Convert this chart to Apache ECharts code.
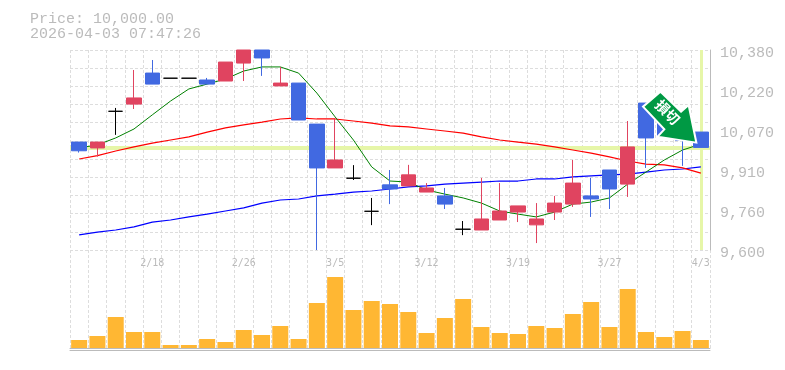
<!DOCTYPE html>
<html><head><meta charset="utf-8">
<style>html,body{margin:0;padding:0;background:#fff}#c{width:785px;height:370px}</style>
<script src="https://cdn.jsdelivr.net/npm/echarts@6/dist/echarts.min.js"></script>
</head><body><div id="c"></div>
<script>
const categories = ['2/12','2/13','2/16','2/17','2/18','2/19','2/20','2/24','2/25','2/26','2/27','3/2','3/3','3/4','3/5','3/6','3/9','3/10','3/11','3/12','3/13','3/16','3/17','3/18','3/19','3/23','3/24','3/25','3/26','3/27','3/30','3/31','4/1','4/2','4/3'];
const labelledDates = ['2/18','2/26','3/5','3/12','3/19','3/27','4/3'];
// open, close, low, high
const candles = [
[10021,9987,9980,10021],[9998,10021,9964,10021],[10141,10141,10049,10154],[10169,10193,10150,10302],[10290,10247,10247,10341],
[10270,10270,10270,10270],[10270,10270,10270,10270],[10263,10247,10247,10271],[10259,10333,10259,10333],[10329,10380,10259,10380],
[10380,10349,10279,10380],[10240,10251,10240,10314],[10251,10107,10107,10251],[10091,9920,9600,10091],[9920,9951,9920,10115],
[9880,9880,9873,9931],[9751,9751,9697,9803],[9854,9838,9779,9912],[9850,9893,9850,9932],[9826,9842,9826,9861],
[9811,9779,9760,9842],[9681,9681,9658,9713],[9678,9721,9678,9881],[9717,9752,9717,9861],[9748,9772,9709,9772],
[9698,9721,9627,9783],[9748,9783,9717,9811],[9779,9861,9768,9951],[9811,9799,9729,9881],[9912,9838,9760,9912],
[9857,10002,9807,10103],[10173,10037,9920,10173],[10107,10045,10045,10107],[10049,10027,9928,10049],[10060,10000,10000,10060]];
const maShort = [9998,10010,10037,10072,10127,10181,10228,10247,10267,10298,10314,10314,10290,10212,10119,10029,9924,9869,9865,9834,9818,9803,9783,9752,9740,9729,9748,9779,9787,9803,9857,9904,9951,9990,10013];
const maMid = [9955,9968,9986,10002,10017,10029,10041,10060,10076,10088,10099,10111,10115,10111,10111,10103,10095,10084,10080,10072,10064,10056,10041,10029,10021,10013,10002,9990,9978,9963,9947,9935,9932,9920,9900];
const maLong = [9659,9670,9678,9690,9709,9717,9729,9740,9752,9764,9783,9795,9799,9811,9818,9826,9830,9838,9846,9850,9857,9861,9865,9869,9869,9877,9877,9885,9889,9893,9896,9904,9912,9916,9924];
const volumes = [8,12,31,16,16,3,3,9,6,18,13,22,9,45,71,38,47,44,36,15,30,49,21,15,14,22,20,34,46,21,59,16,11,17,8];
const priceLabels = [9600,9756,9912,10068,10224,10380];
const currentPrice = 10000;
const priceMin = 9600, priceMax = 10380, gridDivisions = 11;
const stamp = '2026-04-03 07:47:26';

const mono = '"Liberation Mono", monospace';
const grey = '#bbbbbb';
const dash = {show:true, interval:0, lineStyle:{color:'#dddddd', type:[3,2], width:1}};
const gridValues = Array.from({length:gridDivisions+1},(_,i)=>priceMin+i*(priceMax-priceMin)/gridDivisions);
const fmt = v => (Math.round(v/10)*10).toString().replace(/\B(?=(\d{3})+$)/,',');
const arrowPath = 'path://M660 91.7L642.7 106.7L664 129.3L657.3 136.7L696 142.7L688.3 105L680.7 111.7Z';

const chart = echarts.init(document.getElementById('c'),null,{renderer:'canvas'});
chart.setOption({
  animation:false,
  title:{left:30,top:12,padding:0,text:'Price: '+currentPrice.toLocaleString('en-US',{minimumFractionDigits:2})+'\n'+stamp,
    textStyle:{fontFamily:mono,fontSize:15,fontWeight:'normal',color:grey,lineHeight:15}},
  grid:[{left:70,right:75,top:50,height:200},{left:70,right:75,top:250,height:100}],
  xAxis:[
    {type:'category',gridIndex:0,data:categories,axisLine:{show:false},axisTick:{show:false},axisLabel:{show:false},splitLine:dash},
    {type:'category',gridIndex:1,data:categories,position:'top',axisLine:{show:true,lineStyle:{color:grey}},axisTick:{show:false},
      axisLabel:{show:true,inside:true,margin:8,interval:0,hideOverlap:false,showMaxLabel:true,
        formatter:v=>labelledDates.includes(v)?v:'',fontFamily:'"DejaVu Sans Mono", monospace',fontSize:10,color:grey},splitLine:dash},
    {type:'category',gridIndex:1,data:categories,position:'bottom',axisLine:{show:true,lineStyle:{color:grey}},axisTick:{show:false},axisLabel:{show:false},splitLine:{show:false}}
  ],
  yAxis:[
    {type:'value',gridIndex:0,position:'right',min:priceMin,max:priceMax,axisLine:{show:true,lineStyle:{color:grey}},
      axisTick:{show:false,customValues:priceLabels},
      axisLabel:{customValues:priceLabels,formatter:fmt,margin:10,verticalAlign:'top',lineHeight:6,fontFamily:mono,fontSize:15,color:grey},splitLine:{show:false}},
    {type:'value',gridIndex:0,position:'left',min:priceMin,max:priceMax,axisLine:{show:false},
      axisTick:{show:false,customValues:gridValues},axisLabel:{show:false},splitLine:{show:true,lineStyle:{color:'#dddddd',type:[3,2],width:1}}},
    {type:'value',gridIndex:1,min:-2,max:98,show:false,splitLine:{show:false}}
  ],
  series:[
    {type:'line',name:'guide',xAxisIndex:0,yAxisIndex:0,data:[],z:1,showSymbol:false,
      markLine:{silent:true,symbol:'none',label:{show:false},z:1,animation:false,
        data:[{yAxis:currentPrice,lineStyle:{color:'#e6f6a8',width:4,type:'solid'}},
              {xAxis:'4/3',lineStyle:{color:'#e6f6a8',width:3,type:'solid'}}]}},
    {type:'line',data:maLong,xAxisIndex:0,yAxisIndex:0,showSymbol:false,z:2,lineStyle:{color:'#0000ff',width:1.2}},
    {type:'line',data:maMid,xAxisIndex:0,yAxisIndex:0,showSymbol:false,z:2,lineStyle:{color:'#ff0000',width:1.2}},
    {type:'line',data:maShort,xAxisIndex:0,yAxisIndex:0,showSymbol:false,z:2,lineStyle:{color:'#008000',width:1}},
    {type:'candlestick',data:candles,xAxisIndex:0,yAxisIndex:0,barWidth:15,z:3,
      itemStyle:{color:'#e04460',color0:'#4169e1',borderColor:'#e04460',borderColor0:'#4169e1',borderColorDoji:'#000000',borderWidth:1},
      markPoint:{silent:true,animation:false,z:6,data:[{coord:['4/1',10118],symbol:arrowPath,symbolSize:[53.3,51],symbolOffset:[5.4,0],symbolKeepAspect:false,
        itemStyle:{color:'#009944',borderColor:'#ffffff',borderWidth:2},
        label:{show:true,formatter:'損切',rotate:-45,position:'inside',offset:[-5,-2],color:'#ffffff',fontWeight:'bold',fontSize:14,fontFamily:'"Noto Sans CJK JP"'}}]}},
    {type:'bar',data:volumes,xAxisIndex:1,yAxisIndex:2,barWidth:16,itemStyle:{color:'#ffb733'},z:3}
  ]
});
</script></body></html>
